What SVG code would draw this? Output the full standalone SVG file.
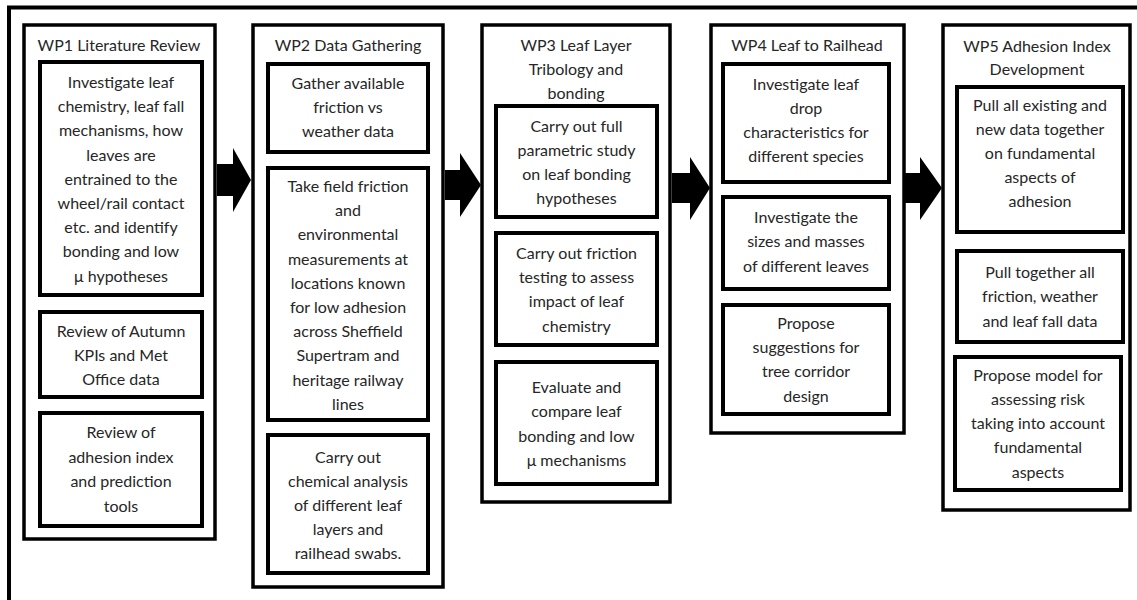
<svg xmlns="http://www.w3.org/2000/svg" width="1137" height="600" viewBox="0 0 1137 600">
<style>
.bg{fill:#fff}
.frame{fill:none;stroke:#000;stroke-width:4}
.wp{fill:#fff;stroke:#000;stroke-width:3.5}
.task{fill:#fff;stroke:#000;stroke-width:4}
text{font-family:Lato,"Liberation Sans",sans-serif;font-size:16px;fill:#262626;text-anchor:middle}
.arrow{fill:#000;stroke:none}
</style>
<rect class="bg" x="0" y="0" width="1137" height="600"/>
<path class="frame" d="M9,600 V7.5 H1137"/>

<g id="wp1">
<rect class="wp" x="24" y="25" width="191" height="514"/>
<text x="119" y="51">WP1 Literature Review</text>
<rect class="task" x="40" y="62" width="162" height="233"/>
<text><tspan x="121" y="88">Investigate leaf</tspan><tspan x="121" y="112.2">chemistry, leaf fall</tspan><tspan x="121" y="136.4">mechanisms, how</tspan><tspan x="121" y="160.6">leaves are</tspan><tspan x="121" y="184.8">entrained to the</tspan><tspan x="121" y="209">wheel/rail contact</tspan><tspan x="121" y="233.2">etc. and identify</tspan><tspan x="121" y="257.4">bonding and low</tspan><tspan x="121" y="281.6">μ hypotheses</tspan></text>
<rect class="task" x="40" y="312" width="162" height="85"/>
<text><tspan x="121" y="337">Review of Autumn</tspan><tspan x="121" y="361">KPIs and Met</tspan><tspan x="121" y="385">Office data</tspan></text>
<rect class="task" x="40" y="413" width="162" height="113"/>
<text><tspan x="121" y="438">Review of</tspan><tspan x="121" y="463">adhesion index</tspan><tspan x="121" y="487">and prediction</tspan><tspan x="121" y="512">tools</tspan></text>
</g>

<g id="wp2">
<rect class="wp" x="253" y="25" width="190" height="562"/>
<text x="348" y="51">WP2 Data Gathering</text>
<rect class="task" x="268" y="64" width="160" height="88"/>
<text><tspan x="348" y="89">Gather available</tspan><tspan x="348" y="113">friction vs</tspan><tspan x="348" y="137">weather data</tspan></text>
<rect class="task" x="268" y="168" width="160" height="252"/>
<text><tspan x="348" y="192">Take field friction</tspan><tspan x="348" y="216.2">and</tspan><tspan x="348" y="240.4">environmental</tspan><tspan x="348" y="264.6">measurements at</tspan><tspan x="348" y="288.8">locations known</tspan><tspan x="348" y="313">for low adhesion</tspan><tspan x="348" y="337.2">across Sheffield</tspan><tspan x="348" y="361.4">Supertram and</tspan><tspan x="348" y="385.6">heritage railway</tspan><tspan x="348" y="409.8">lines</tspan></text>
<rect class="task" x="268" y="435" width="160" height="138"/>
<text><tspan x="348" y="463">Carry out</tspan><tspan x="348" y="487">chemical analysis</tspan><tspan x="348" y="511">of different leaf</tspan><tspan x="348" y="535">layers and</tspan><tspan x="348" y="559">railhead swabs.</tspan></text>
</g>

<g id="wp3">
<rect class="wp" x="482" y="25" width="188" height="477"/>
<text><tspan x="576" y="51">WP3 Leaf Layer</tspan><tspan x="576" y="75">Tribology and</tspan><tspan x="576" y="99">bonding</tspan></text>
<rect class="task" x="496" y="106" width="161" height="111"/>
<text><tspan x="576.5" y="132">Carry out full</tspan><tspan x="576.5" y="156">parametric study</tspan><tspan x="576.5" y="180">on leaf bonding</tspan><tspan x="576.5" y="204">hypotheses</tspan></text>
<rect class="task" x="496" y="233" width="161" height="112"/>
<text><tspan x="576.5" y="259">Carry out friction</tspan><tspan x="576.5" y="283">testing to assess</tspan><tspan x="576.5" y="307">impact of leaf</tspan><tspan x="576.5" y="332">chemistry</tspan></text>
<rect class="task" x="496" y="362" width="161" height="122"/>
<text><tspan x="576.5" y="393">Evaluate and</tspan><tspan x="576.5" y="417">compare leaf</tspan><tspan x="576.5" y="442">bonding and low</tspan><tspan x="576.5" y="466">μ mechanisms</tspan></text>
</g>

<g id="wp4">
<rect class="wp" x="711" y="25" width="193" height="408"/>
<text x="807" y="51">WP4 Leaf to Railhead</text>
<rect class="task" x="723" y="64" width="166" height="118"/>
<text><tspan x="806" y="90">Investigate leaf</tspan><tspan x="806" y="114">drop</tspan><tspan x="806" y="138">characteristics for</tspan><tspan x="806" y="162">different species</tspan></text>
<rect class="task" x="723" y="197" width="166" height="92"/>
<text><tspan x="806" y="223">Investigate the</tspan><tspan x="806" y="247">sizes and masses</tspan><tspan x="806" y="272">of different leaves</tspan></text>
<rect class="task" x="723" y="305" width="166" height="109"/>
<text><tspan x="806" y="329">Propose</tspan><tspan x="806" y="353">suggestions for</tspan><tspan x="806" y="377">tree corridor</tspan><tspan x="806" y="402">design</tspan></text>
</g>

<g id="wp5">
<rect class="wp" x="943" y="25" width="187" height="485"/>
<text><tspan x="1037" y="52">WP5 Adhesion Index</tspan><tspan x="1037" y="75">Development</tspan></text>
<rect class="task" x="957" y="87" width="166" height="145"/>
<text><tspan x="1040" y="111">Pull all existing and</tspan><tspan x="1040" y="135">new data together</tspan><tspan x="1040" y="159">on fundamental</tspan><tspan x="1040" y="183">aspects of</tspan><tspan x="1040" y="207">adhesion</tspan></text>
<rect class="task" x="957" y="251" width="166" height="91"/>
<text><tspan x="1040" y="278">Pull together all</tspan><tspan x="1040" y="302">friction, weather</tspan><tspan x="1040" y="327">and leaf fall data</tspan></text>
<rect class="task" x="955" y="357" width="166" height="133"/>
<text><tspan x="1038" y="381">Propose model for</tspan><tspan x="1038" y="405">assessing risk</tspan><tspan x="1038" y="429">taking into account</tspan><tspan x="1038" y="453">fundamental</tspan><tspan x="1038" y="478">aspects</tspan></text>
</g>

<g id="connectors">
<polygon class="arrow" points="217,164 233,164 233,148 251,180 233,212 233,196 217,196"/>
<polygon class="arrow" points="445,170 460,170 460,153 481,185 460,217 460,200 445,200"/>
<polygon class="arrow" points="672,173 690,173 690,157 710,188 690,220 690,203 672,203"/>
<polygon class="arrow" points="905,173 920,173 920,157 942,188 920,220 920,203 905,203"/>
</g>
</svg>
